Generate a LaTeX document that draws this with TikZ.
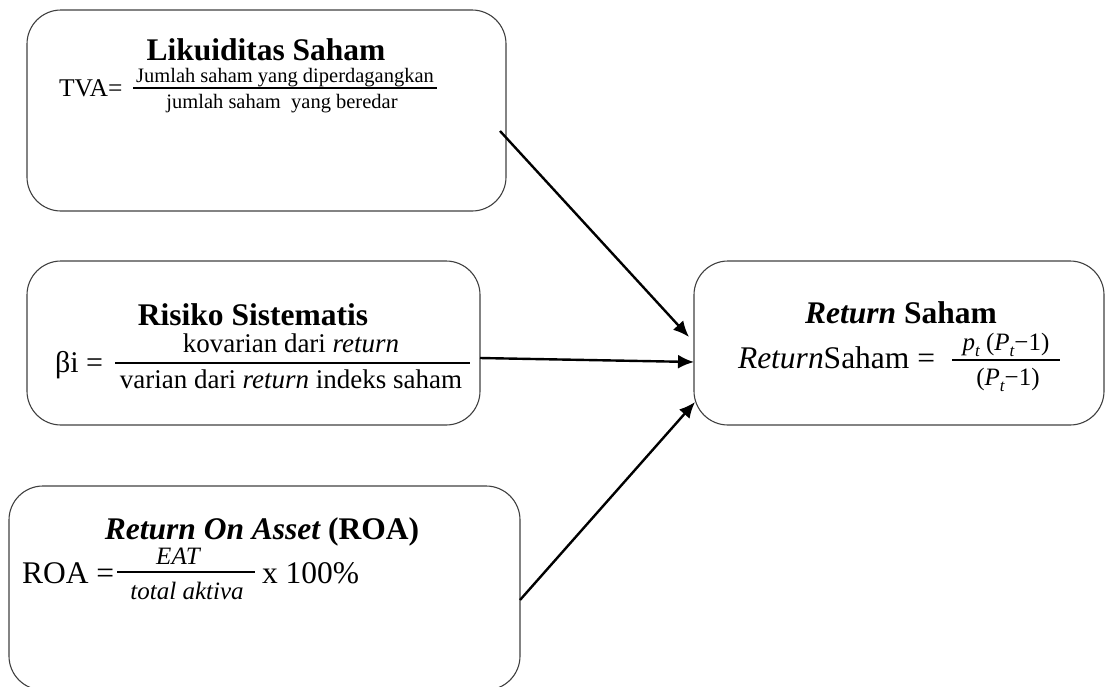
\documentclass[tikz,border=0pt]{standalone}
\usepackage{fontspec}
\setmainfont{Liberation Serif}
\usetikzlibrary{arrows.meta}
\newcommand\ttlfont{\fontsize{31.5}{36}\selectfont\bfseries}
\newcommand\sbt[1]{\raisebox{-0.25em}{\fontsize{17}{20}\selectfont\itshape #1}}
\begin{document}
\begin{tikzpicture}[x=1pt,y=-1pt,
  box/.style={draw=black!75, line width=1.1pt, rounded corners=34pt, inner sep=0pt, outer sep=0pt},
  tx/.style={inner sep=0pt, outer sep=0pt},
  conn/.style={line width=2.4pt, -{Latex[length=16pt,width=14pt]}},
  bar/.style={line width=2.6pt}]
\useasboundingbox (0,0) rectangle (1105,686);
% boxes
\node[box, minimum width=479pt, minimum height=201pt] (b1) at (266.5,110.5) {};
\node[box, minimum width=453pt, minimum height=164pt] (b2) at (253.5,343) {};
\node[box, minimum width=511pt, minimum height=204pt] (b3) at (264.5,588) {};
\node[box, minimum width=410pt, minimum height=164pt] (b4) at (899,343) {};
% box 1
\node[tx, anchor=base] (t1) at (266,60) {\ttlfont Likuiditas Saham};
\node[tx, anchor=base west] (tva) at (59,96) {\fontsize{25.5}{30}\selectfont TVA=};
\draw[line width=1.8pt] (133,88) -- (437,88);
\node[tx, anchor=base] (n1) at (285,82.5) {\fontsize{20.5}{24}\selectfont Jumlah saham yang diperdagangkan};
\node[tx, anchor=base] (d1) at (282,108) {\fontsize{20.5}{24}\selectfont jumlah saham\ \ yang beredar};
% box 2
\node[tx, anchor=base] (t2) at (253,325) {\ttlfont Risiko Sistematis};
\node[tx, anchor=base west] (beta) at (55,372) {\fontsize{30}{34}\selectfont βi =};
\draw[bar] (115,363) -- (470,363);
\node[tx, anchor=base] (n2) at (291,352) {\fontsize{27}{32}\selectfont kovarian dari \textit{return}};
\node[tx, anchor=base] (d2) at (291,388) {\fontsize{27}{32}\selectfont varian dari \textit{return} indeks saham};
% box 3
\node[tx, anchor=base] (t3) at (262,539) {\ttlfont\itshape Return On Asset \upshape(ROA)};
\node[tx, anchor=base west] (roa) at (22,583) {\fontsize{31.5}{36}\selectfont ROA =};
\draw[bar] (117,572) -- (255,572);
\node[tx, anchor=base] (eat) at (178,564) {\fontsize{25}{30}\selectfont\itshape EAT};
\node[tx, anchor=base] (tot) at (187,599) {\fontsize{25}{30}\selectfont\itshape total aktiva};
\node[tx, anchor=base west] (pct) at (262,583) {\fontsize{31.5}{36}\selectfont x 100\%};
% box 4
\node[tx, anchor=base] (t4) at (901,323) {\ttlfont\itshape Return\upshape\ Saham};
\node[tx, anchor=base west] (rs) at (738,368) {\fontsize{31.5}{36}\selectfont\itshape Return\upshape Saham =};
\draw[bar] (952,360) -- (1060,360);
\node[tx, anchor=base] (n4) at (1006,350) {\fontsize{25}{30}\selectfont\itshape p\sbt{t} \upshape(\itshape P\sbt{t}\upshape−1)};
\node[tx, anchor=base] (d4) at (1008,385) {\fontsize{25}{30}\selectfont (\itshape P\sbt{t}\upshape−1)};
% connectors
\draw[conn] ([xshift=-6pt,yshift=-20.5pt]b1.east) -- ([xshift=-5pt,yshift=6pt]b4.west);
\draw[conn] ([yshift=-15pt]b2.east) -- ([yshift=-19pt]b4.west);
\draw[conn] ([yshift=-12pt]b3.east) -- ([xshift=1pt,yshift=-59pt]b4.west);
\end{tikzpicture}
\end{document}
